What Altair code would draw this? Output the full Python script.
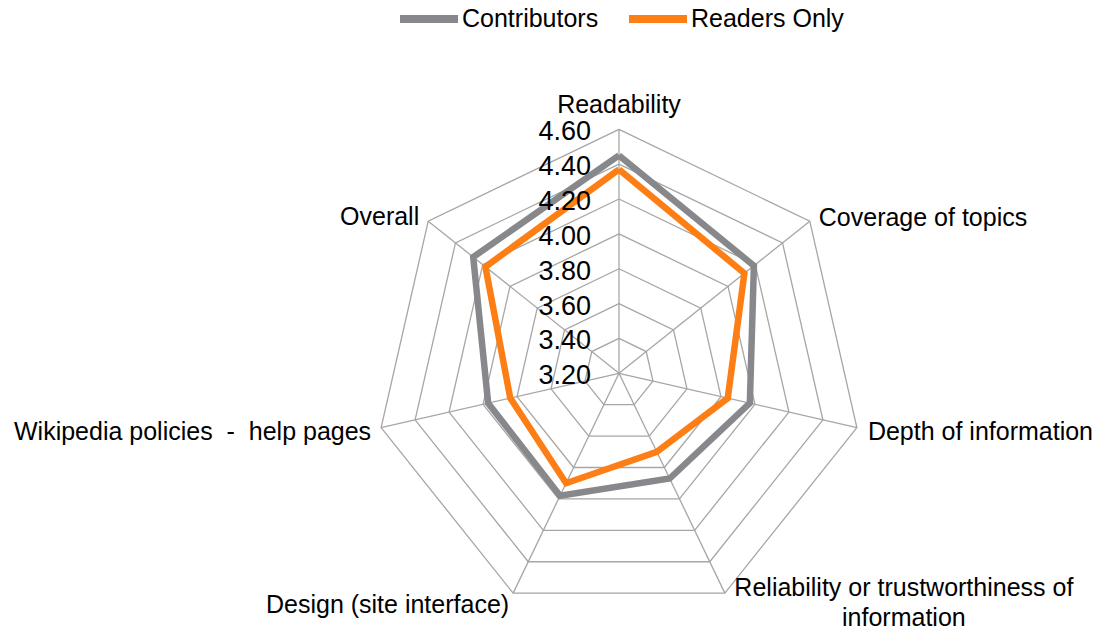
import math
import altair as alt
import pandas as pd

# ---------------- data ----------------
categories = [
    "Readability",
    "Coverage of topics",
    "Depth of information",
    "Reliability or trustworthiness of\ninformation",
    "Design (site interface)",
    "Wikipedia policies \u00a0-\u00a0 help pages",
    "Overall",
]
contributors = [4.45, 4.19, 3.97, 3.87, 3.98, 3.97, 4.27]
readers_only = [4.37, 4.12, 3.84, 3.70, 3.90, 3.84, 4.18]
series_names = ["Contributors", "Readers Only"]
tick_values = [3.20, 3.40, 3.60, 3.80, 4.00, 4.20, 4.40, 4.60]

AXIS_MIN = tick_values[0]
AXIS_MAX = tick_values[-1]
N = len(categories)

# ---------------- layout / style ----------------
W, H = 1085, 622
CX, CY = 611.0, 365.3          # centre of the web inside the plot area
RADIUS_PX = 244.0
K = RADIUS_PX / (AXIS_MAX - AXIS_MIN)
XDOM = [-CX / K, (W - CX) / K]
YDOM = [-(H - CY) / K, CY / K]
FONT = "Liberation Sans"
FS = 25
GRID = "#a6a6a6"
COLORS = ["#87888b", "#fd7e14"]


def polar(idx, value):
    th = 2 * math.pi * idx / N
    r = value - AXIS_MIN
    return r * math.sin(th), r * math.cos(th)


# series table
rows = []
for name, vals in zip(series_names, [contributors, readers_only]):
    for i in range(N + 1):
        idx = i % N
        x, y = polar(idx, vals[idx])
        rows.append({"series": name, "cat": categories[idx], "value": vals[idx],
                     "x": x, "y": y, "order": i})
series_df = pd.DataFrame(rows)

# grid rings
grid_rows = []
for lv in tick_values[1:]:
    for i in range(N + 1):
        x, y = polar(i % N, lv)
        grid_rows.append({"level": lv, "x": x, "y": y, "order": i})
grid_df = pd.DataFrame(grid_rows)

# spokes
spoke_rows = []
for i in range(N):
    x, y = polar(i, AXIS_MAX)
    spoke_rows.append({"x0": 0.0, "y0": 0.0, "x": x, "y": y})
spoke_df = pd.DataFrame(spoke_rows)

# category label anchors (outer vertices)
lab_rows = []
for i, c in enumerate(categories):
    x, y = polar(i, AXIS_MAX)
    lab_rows.append({"cat": c, "x": x, "y": y, "i": i})
lab_df = pd.DataFrame(lab_rows)

# tick labels
tick_df = pd.DataFrame({"v": tick_values,
                        "x": [0.0] * len(tick_values),
                        "y": [v - AXIS_MIN for v in tick_values]})

xs = alt.Scale(domain=XDOM, nice=False, zero=False)
ys = alt.Scale(domain=YDOM, nice=False, zero=False)
X = alt.X("x:Q", scale=xs, axis=None)
Y = alt.Y("y:Q", scale=ys, axis=None)

rings = alt.Chart(grid_df).mark_line(color=GRID, strokeWidth=1.3).encode(
    x=X, y=Y, detail="level:N", order="order:Q")

spokes = alt.Chart(spoke_df).mark_rule(color=GRID, strokeWidth=1.3).encode(
    x=alt.X("x0:Q", scale=xs, axis=None), y=alt.Y("y0:Q", scale=ys, axis=None),
    x2="x:Q", y2="y:Q")

lines = alt.Chart(series_df).mark_line(strokeWidth=6.5, strokeJoin="miter").encode(
    x=X, y=Y,
    color=alt.Color("series:N",
                    scale=alt.Scale(domain=series_names, range=COLORS),
                    sort=series_names,
                    legend=alt.Legend(
                        title=None, orient="none", direction="horizontal",
                        legendX=388, legendY=-22,
                        symbolType="stroke", symbolSize=3364,
                        symbolStrokeWidth=8, labelFont=FONT, labelFontSize=FS,
                        labelColor="#000000", labelOffset=0,
                        columnPadding=14, padding=0)),
    detail="series:N",
    order="order:Q")

# per-label placement style: (align, dx, dy)
label_style = {
    0: ("center", 0, -16),
    1: ("left", 9, 5),
    2: ("left", 11, 12),
    3: ("center", 179, 3),
    4: ("right", -4, 20),
    5: ("right", -10, 12),
    6: ("right", -9, 4),
}
label_layers = []
for i, (al, dx, dy) in label_style.items():
    label_layers.append(
        alt.Chart(lab_df).transform_filter(alt.datum.i == i).mark_text(
            align=al, dx=dx, dy=dy, font=FONT, fontSize=FS, color="#000000",
            lineBreak="\n", lineHeight=30, baseline="alphabetic"
        ).encode(x=X, y=Y, text="cat:N"))

ticks = alt.Chart(tick_df).mark_text(
    align="right", baseline="middle", dx=-28, dy=3, font=FONT, fontSize=27,
    color="#000000").encode(x=X, y=Y, text=alt.Text("v:Q", format=".2f"))

chart = alt.layer(rings, spokes, lines, *label_layers, ticks).properties(
    width=W, height=H, autosize="none", padding=0, background="white"
).configure_view(stroke=None)

chart.save("out.html", embed_options={"renderer": "svg", "actions": False})
